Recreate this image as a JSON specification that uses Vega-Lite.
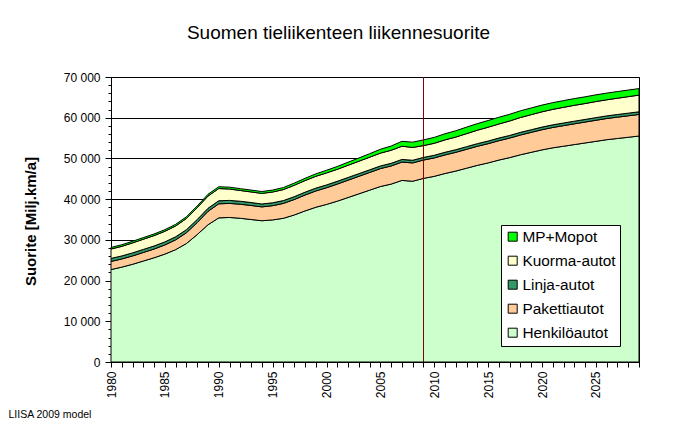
{
"$schema":"https://vega.github.io/schema/vega-lite/v6.json",
"width":528,"height":285,
"autosize":{"type":"none"},
"padding":{"left":111,"top":77,"right":38,"bottom":62},
"background":"white",
"config":{"font":"Liberation Sans","view":{"stroke":"black","strokeWidth":1},
"axis":{"domainColor":"black","tickColor":"black","labelColor":"black","titleColor":"black","gridColor":"black","labelFont":"Liberation Sans","titleFont":"Liberation Sans"}},
"title":{"text":"Suomen tieliikenteen liikennesuorite","fontSize":19,"fontWeight":"normal","font":"Liberation Sans","color":"black","frame":"group","anchor":"middle","dx":-36.5,"offset":13,"baseline":"alphabetic"},
"datasets":{
"series":[{"t":"Henkilöautot","o":1},{"t":"Pakettiautot","o":2},{"t":"Linja-autot","o":3},{"t":"Kuorma-autot","o":4},{"t":"MP+Mopot","o":5}],
"traffic":[
{"t":"Henkilöautot","yr":1980,"v":22700},{"t":"Henkilöautot","yr":1981,"v":23300},{"t":"Henkilöautot","yr":1982,"v":24000},{"t":"Henkilöautot","yr":1983,"v":24800},{"t":"Henkilöautot","yr":1984,"v":25600},{"t":"Henkilöautot","yr":1985,"v":26500},{"t":"Henkilöautot","yr":1986,"v":27600},{"t":"Henkilöautot","yr":1987,"v":29100},{"t":"Henkilöautot","yr":1988,"v":31300},{"t":"Henkilöautot","yr":1989,"v":33700},
{"t":"Henkilöautot","yr":1990,"v":35400},{"t":"Henkilöautot","yr":1991,"v":35500},{"t":"Henkilöautot","yr":1992,"v":35300},{"t":"Henkilöautot","yr":1993,"v":35000},{"t":"Henkilöautot","yr":1994,"v":34700},{"t":"Henkilöautot","yr":1995,"v":34900},{"t":"Henkilöautot","yr":1996,"v":35300},{"t":"Henkilöautot","yr":1997,"v":36100},{"t":"Henkilöautot","yr":1998,"v":37100},{"t":"Henkilöautot","yr":1999,"v":38000},
{"t":"Henkilöautot","yr":2000,"v":38700},{"t":"Henkilöautot","yr":2001,"v":39500},{"t":"Henkilöautot","yr":2002,"v":40400},{"t":"Henkilöautot","yr":2003,"v":41300},{"t":"Henkilöautot","yr":2004,"v":42200},{"t":"Henkilöautot","yr":2005,"v":43100},{"t":"Henkilöautot","yr":2006,"v":43700},{"t":"Henkilöautot","yr":2007,"v":44600},{"t":"Henkilöautot","yr":2008,"v":44400},{"t":"Henkilöautot","yr":2009,"v":45100},
{"t":"Henkilöautot","yr":2010,"v":45600},{"t":"Henkilöautot","yr":2011,"v":46300},{"t":"Henkilöautot","yr":2012,"v":46900},{"t":"Henkilöautot","yr":2013,"v":47600},{"t":"Henkilöautot","yr":2014,"v":48300},{"t":"Henkilöautot","yr":2015,"v":48900},{"t":"Henkilöautot","yr":2016,"v":49600},{"t":"Henkilöautot","yr":2017,"v":50200},{"t":"Henkilöautot","yr":2018,"v":50900},{"t":"Henkilöautot","yr":2019,"v":51500},
{"t":"Henkilöautot","yr":2020,"v":52100},{"t":"Henkilöautot","yr":2021,"v":52600},{"t":"Henkilöautot","yr":2022,"v":53000},{"t":"Henkilöautot","yr":2023,"v":53400},{"t":"Henkilöautot","yr":2024,"v":53800},{"t":"Henkilöautot","yr":2025,"v":54200},{"t":"Henkilöautot","yr":2026,"v":54600},{"t":"Henkilöautot","yr":2027,"v":54900},{"t":"Henkilöautot","yr":2028,"v":55200},{"t":"Henkilöautot","yr":2029,"v":55500},
{"t":"Pakettiautot","yr":1980,"v":2000},{"t":"Pakettiautot","yr":1981,"v":2000},{"t":"Pakettiautot","yr":1982,"v":2050},{"t":"Pakettiautot","yr":1983,"v":2100},{"t":"Pakettiautot","yr":1984,"v":2150},{"t":"Pakettiautot","yr":1985,"v":2250},{"t":"Pakettiautot","yr":1986,"v":2400},{"t":"Pakettiautot","yr":1987,"v":2650},{"t":"Pakettiautot","yr":1988,"v":2950},{"t":"Pakettiautot","yr":1989,"v":3300},
{"t":"Pakettiautot","yr":1990,"v":3450},{"t":"Pakettiautot","yr":1991,"v":3450},{"t":"Pakettiautot","yr":1992,"v":3450},{"t":"Pakettiautot","yr":1993,"v":3450},{"t":"Pakettiautot","yr":1994,"v":3400},{"t":"Pakettiautot","yr":1995,"v":3500},{"t":"Pakettiautot","yr":1996,"v":3650},{"t":"Pakettiautot","yr":1997,"v":3800},{"t":"Pakettiautot","yr":1998,"v":3900},{"t":"Pakettiautot","yr":1999,"v":4000},
{"t":"Pakettiautot","yr":2000,"v":4100},{"t":"Pakettiautot","yr":2001,"v":4200},{"t":"Pakettiautot","yr":2002,"v":4250},{"t":"Pakettiautot","yr":2003,"v":4300},{"t":"Pakettiautot","yr":2004,"v":4350},{"t":"Pakettiautot","yr":2005,"v":4400},{"t":"Pakettiautot","yr":2006,"v":4450},{"t":"Pakettiautot","yr":2007,"v":4500},{"t":"Pakettiautot","yr":2008,"v":4500},{"t":"Pakettiautot","yr":2009,"v":4500},
{"t":"Pakettiautot","yr":2010,"v":4520},{"t":"Pakettiautot","yr":2011,"v":4560},{"t":"Pakettiautot","yr":2012,"v":4600},{"t":"Pakettiautot","yr":2013,"v":4640},{"t":"Pakettiautot","yr":2014,"v":4680},{"t":"Pakettiautot","yr":2015,"v":4720},{"t":"Pakettiautot","yr":2016,"v":4760},{"t":"Pakettiautot","yr":2017,"v":4800},{"t":"Pakettiautot","yr":2018,"v":4850},{"t":"Pakettiautot","yr":2019,"v":4900},
{"t":"Pakettiautot","yr":2020,"v":4950},{"t":"Pakettiautot","yr":2021,"v":5000},{"t":"Pakettiautot","yr":2022,"v":5050},{"t":"Pakettiautot","yr":2023,"v":5100},{"t":"Pakettiautot","yr":2024,"v":5130},{"t":"Pakettiautot","yr":2025,"v":5170},{"t":"Pakettiautot","yr":2026,"v":5200},{"t":"Pakettiautot","yr":2027,"v":5240},{"t":"Pakettiautot","yr":2028,"v":5270},{"t":"Pakettiautot","yr":2029,"v":5300},
{"t":"Linja-autot","yr":1980,"v":750},{"t":"Linja-autot","yr":1981,"v":750},{"t":"Linja-autot","yr":1982,"v":750},{"t":"Linja-autot","yr":1983,"v":750},{"t":"Linja-autot","yr":1984,"v":750},{"t":"Linja-autot","yr":1985,"v":750},{"t":"Linja-autot","yr":1986,"v":750},{"t":"Linja-autot","yr":1987,"v":750},{"t":"Linja-autot","yr":1988,"v":750},{"t":"Linja-autot","yr":1989,"v":750},
{"t":"Linja-autot","yr":1990,"v":750},{"t":"Linja-autot","yr":1991,"v":740},{"t":"Linja-autot","yr":1992,"v":730},{"t":"Linja-autot","yr":1993,"v":720},{"t":"Linja-autot","yr":1994,"v":710},{"t":"Linja-autot","yr":1995,"v":700},{"t":"Linja-autot","yr":1996,"v":700},{"t":"Linja-autot","yr":1997,"v":700},{"t":"Linja-autot","yr":1998,"v":700},{"t":"Linja-autot","yr":1999,"v":700},
{"t":"Linja-autot","yr":2000,"v":690},{"t":"Linja-autot","yr":2001,"v":680},{"t":"Linja-autot","yr":2002,"v":670},{"t":"Linja-autot","yr":2003,"v":660},{"t":"Linja-autot","yr":2004,"v":650},{"t":"Linja-autot","yr":2005,"v":650},{"t":"Linja-autot","yr":2006,"v":650},{"t":"Linja-autot","yr":2007,"v":650},{"t":"Linja-autot","yr":2008,"v":650},{"t":"Linja-autot","yr":2009,"v":650},
{"t":"Linja-autot","yr":2010,"v":650},{"t":"Linja-autot","yr":2011,"v":650},{"t":"Linja-autot","yr":2012,"v":650},{"t":"Linja-autot","yr":2013,"v":650},{"t":"Linja-autot","yr":2014,"v":650},{"t":"Linja-autot","yr":2015,"v":650},{"t":"Linja-autot","yr":2016,"v":650},{"t":"Linja-autot","yr":2017,"v":650},{"t":"Linja-autot","yr":2018,"v":650},{"t":"Linja-autot","yr":2019,"v":650},
{"t":"Linja-autot","yr":2020,"v":650},{"t":"Linja-autot","yr":2021,"v":650},{"t":"Linja-autot","yr":2022,"v":650},{"t":"Linja-autot","yr":2023,"v":650},{"t":"Linja-autot","yr":2024,"v":650},{"t":"Linja-autot","yr":2025,"v":650},{"t":"Linja-autot","yr":2026,"v":650},{"t":"Linja-autot","yr":2027,"v":650},{"t":"Linja-autot","yr":2028,"v":650},{"t":"Linja-autot","yr":2029,"v":650},
{"t":"Kuorma-autot","yr":1980,"v":2300},{"t":"Kuorma-autot","yr":1981,"v":2350},{"t":"Kuorma-autot","yr":1982,"v":2450},{"t":"Kuorma-autot","yr":1983,"v":2500},{"t":"Kuorma-autot","yr":1984,"v":2550},{"t":"Kuorma-autot","yr":1985,"v":2600},{"t":"Kuorma-autot","yr":1986,"v":2650},{"t":"Kuorma-autot","yr":1987,"v":2750},{"t":"Kuorma-autot","yr":1988,"v":2900},{"t":"Kuorma-autot","yr":1989,"v":3000},
{"t":"Kuorma-autot","yr":1990,"v":3000},{"t":"Kuorma-autot","yr":1991,"v":2800},{"t":"Kuorma-autot","yr":1992,"v":2650},{"t":"Kuorma-autot","yr":1993,"v":2600},{"t":"Kuorma-autot","yr":1994,"v":2600},{"t":"Kuorma-autot","yr":1995,"v":2650},{"t":"Kuorma-autot","yr":1996,"v":2700},{"t":"Kuorma-autot","yr":1997,"v":2800},{"t":"Kuorma-autot","yr":1998,"v":2850},{"t":"Kuorma-autot","yr":1999,"v":2900},
{"t":"Kuorma-autot","yr":2000,"v":2950},{"t":"Kuorma-autot","yr":2001,"v":2950},{"t":"Kuorma-autot","yr":2002,"v":3000},{"t":"Kuorma-autot","yr":2003,"v":3050},{"t":"Kuorma-autot","yr":2004,"v":3100},{"t":"Kuorma-autot","yr":2005,"v":3150},{"t":"Kuorma-autot","yr":2006,"v":3200},{"t":"Kuorma-autot","yr":2007,"v":3250},{"t":"Kuorma-autot","yr":2008,"v":3150},{"t":"Kuorma-autot","yr":2009,"v":2900},
{"t":"Kuorma-autot","yr":2010,"v":2950},{"t":"Kuorma-autot","yr":2011,"v":3050},{"t":"Kuorma-autot","yr":2012,"v":3100},{"t":"Kuorma-autot","yr":2013,"v":3200},{"t":"Kuorma-autot","yr":2014,"v":3300},{"t":"Kuorma-autot","yr":2015,"v":3400},{"t":"Kuorma-autot","yr":2016,"v":3450},{"t":"Kuorma-autot","yr":2017,"v":3550},{"t":"Kuorma-autot","yr":2018,"v":3650},{"t":"Kuorma-autot","yr":2019,"v":3700},
{"t":"Kuorma-autot","yr":2020,"v":3750},{"t":"Kuorma-autot","yr":2021,"v":3800},{"t":"Kuorma-autot","yr":2022,"v":3850},{"t":"Kuorma-autot","yr":2023,"v":3900},{"t":"Kuorma-autot","yr":2024,"v":3900},{"t":"Kuorma-autot","yr":2025,"v":3950},{"t":"Kuorma-autot","yr":2026,"v":3950},{"t":"Kuorma-autot","yr":2027,"v":4000},{"t":"Kuorma-autot","yr":2028,"v":4050},{"t":"Kuorma-autot","yr":2029,"v":4100},
{"t":"MP+Mopot","yr":1980,"v":400},{"t":"MP+Mopot","yr":1981,"v":400},{"t":"MP+Mopot","yr":1982,"v":400},{"t":"MP+Mopot","yr":1983,"v":400},{"t":"MP+Mopot","yr":1984,"v":400},{"t":"MP+Mopot","yr":1985,"v":400},{"t":"MP+Mopot","yr":1986,"v":410},{"t":"MP+Mopot","yr":1987,"v":420},{"t":"MP+Mopot","yr":1988,"v":430},{"t":"MP+Mopot","yr":1989,"v":440},
{"t":"MP+Mopot","yr":1990,"v":450},{"t":"MP+Mopot","yr":1991,"v":450},{"t":"MP+Mopot","yr":1992,"v":450},{"t":"MP+Mopot","yr":1993,"v":450},{"t":"MP+Mopot","yr":1994,"v":460},{"t":"MP+Mopot","yr":1995,"v":480},{"t":"MP+Mopot","yr":1996,"v":500},{"t":"MP+Mopot","yr":1997,"v":530},{"t":"MP+Mopot","yr":1998,"v":560},{"t":"MP+Mopot","yr":1999,"v":600},
{"t":"MP+Mopot","yr":2000,"v":650},{"t":"MP+Mopot","yr":2001,"v":700},{"t":"MP+Mopot","yr":2002,"v":750},{"t":"MP+Mopot","yr":2003,"v":800},{"t":"MP+Mopot","yr":2004,"v":850},{"t":"MP+Mopot","yr":2005,"v":950},{"t":"MP+Mopot","yr":2006,"v":1050},{"t":"MP+Mopot","yr":2007,"v":1200},{"t":"MP+Mopot","yr":2008,"v":1300},{"t":"MP+Mopot","yr":2009,"v":1400},
{"t":"MP+Mopot","yr":2010,"v":1450},{"t":"MP+Mopot","yr":2011,"v":1500},{"t":"MP+Mopot","yr":2012,"v":1550},{"t":"MP+Mopot","yr":2013,"v":1600},{"t":"MP+Mopot","yr":2014,"v":1620},{"t":"MP+Mopot","yr":2015,"v":1640},{"t":"MP+Mopot","yr":2016,"v":1650},{"t":"MP+Mopot","yr":2017,"v":1650},{"t":"MP+Mopot","yr":2018,"v":1650},{"t":"MP+Mopot","yr":2019,"v":1650},
{"t":"MP+Mopot","yr":2020,"v":1650},{"t":"MP+Mopot","yr":2021,"v":1650},{"t":"MP+Mopot","yr":2022,"v":1650},{"t":"MP+Mopot","yr":2023,"v":1650},{"t":"MP+Mopot","yr":2024,"v":1650},{"t":"MP+Mopot","yr":2025,"v":1650},{"t":"MP+Mopot","yr":2026,"v":1640},{"t":"MP+Mopot","yr":2027,"v":1630},{"t":"MP+Mopot","yr":2028,"v":1620},{"t":"MP+Mopot","yr":2029,"v":1600}
]},
"layer":[
{"data":{"name":"traffic"},
"transform":[{"lookup":"t","from":{"data":{"name":"series"},"key":"t","fields":["o"]}}],
"mark":{"type":"area","opacity":1,"stroke":"black","strokeWidth":1},
"encoding":{
"x":{"field":"yr","type":"quantitative","scale":{"domain":[1980,2029],"nice":false,"zero":false},
"axis":{"values":[1980,1981,1982,1983,1984,1985,1986,1987,1988,1989,1990,1991,1992,1993,1994,1995,1996,1997,1998,1999,2000,2001,2002,2003,2004,2005,2006,2007,2008,2009,2010,2011,2012,2013,2014,2015,2016,2017,2018,2019,2020,2021,2022,2023,2024,2025,2026,2027,2028,2029],
"tickCount":200,
"labelExpr":"datum.value % 5 === 0 ? '' + datum.value : ''","labelAngle":270,"labelAlign":"right","labelBaseline":"middle","labelFontSize":12,"labelPadding":4,"tickSize":5,"labelOverlap":false,"labelBound":false,"labelFlush":false,"grid":false,
"title":"LIISA 2009 model","titleFontSize":10.5,"titleFontWeight":"normal","titleX":-103,"titleY":55,"titleAlign":"left","titleBaseline":"alphabetic","titleAngle":0}},
"y":{"field":"v","type":"quantitative","stack":"zero","scale":{"domain":[0,70000],"nice":false,"zero":true},
"axis":{"values":[0,2000,4000,6000,8000,10000,12000,14000,16000,18000,20000,22000,24000,26000,28000,30000,32000,34000,36000,38000,40000,42000,44000,46000,48000,50000,52000,54000,56000,58000,60000,62000,64000,66000,68000,70000],
"tickCount":200,
"labelExpr":"datum.value % 10000 === 0 ? replace(format(datum.value, ','), ',', ' ') : ''",
"tickSize":{"condition":{"test":"datum.value % 10000 === 0","value":6},"value":3},
"gridOpacity":{"condition":{"test":"datum.value % 10000 === 0","value":1},"value":0},
"grid":true,"labelFontSize":12,"labelPadding":5,"labelOverlap":false,"labelBound":false,
"title":"Suorite [Milj.km/a]","titleFontSize":15,"titleFontWeight":"bold","titleX":-81,"titleY":144,"titleAngle":270,"titleBaseline":"middle","titleAlign":"center"}},
"color":{"field":"t","type":"nominal","scale":{"domain":["MP+Mopot","Kuorma-autot","Linja-autot","Pakettiautot","Henkilöautot"],"range":["#00FF00","#FFFFCC","#339966","#FFCC99","#CCFFCC"]},
"legend":{"title":null,"orient":"none","legendX":390,"legendY":148,"strokeColor":"black","fillColor":"white","padding":4,"symbolType":"square","symbolSize":81,"symbolStrokeColor":"black","symbolStrokeWidth":1,"symbolOpacity":1,"labelFontSize":15.4,"labelFont":"Liberation Sans","labelColor":"black","rowPadding":7,"labelOffset":2}},
"order":{"field":"o","type":"quantitative"}}},
{"data":{"values":[{"yr":2009}]},"mark":{"type":"rule","color":"#800000","strokeWidth":1},"encoding":{"x":{"field":"yr","type":"quantitative"}}}
]
}
